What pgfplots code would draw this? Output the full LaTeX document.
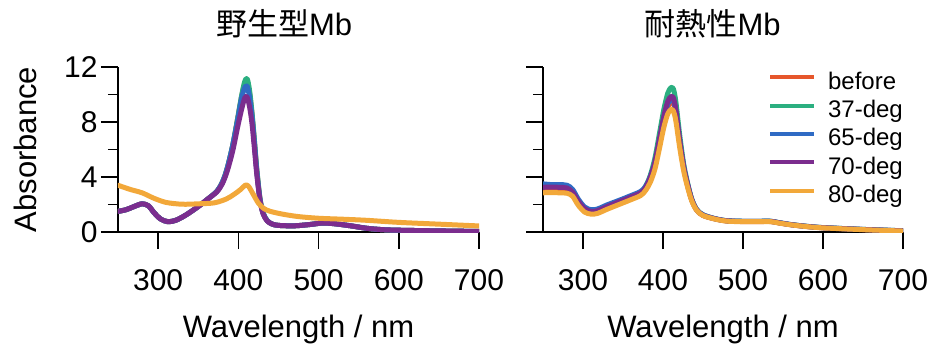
\documentclass[border=0pt]{standalone}
\usepackage{fontspec}
\setmainfont{Liberation Sans}
\newfontfamily\cjk{Noto Sans CJK JP}
\usepackage{pgfplots}
\pgfplotsset{compat=1.18}
\definecolor{cBefore}{HTML}{E6562B}
\definecolor{cA}{HTML}{2BAF80}
\definecolor{cB}{HTML}{2F6BC4}
\definecolor{cC}{HTML}{7B2D8E}
\definecolor{cD}{HTML}{F2A83A}
\pgfplotsset{
  myax/.style={
    scale only axis, width=361pt, height=165pt,
    xmin=250, xmax=700, ymin=0, ymax=12,
    axis x line*=bottom, axis y line*=left,
    xtick={300,400,500,600,700}, ytick={0,4,8,12}, minor ytick={2,6,10},
    tick align=outside, major tick length=17pt, minor tick length=10pt,
    every tick/.style={black, line width=1.6pt},
    axis line style={line width=1.6pt},
    /pgf/number format/assume math mode=true,
    tick label style={font=\fontsize{30}{30}\selectfont},
    xticklabel style={yshift=-17pt},
    title style={anchor=base, font=\fontsize{31}{31}\selectfont},
    xlabel style={at={(axis description cs:0.5,-0.642)}, anchor=base, font=\fontsize{31}{31}\selectfont},
    ylabel style={at={(axis description cs:-0.2244,0.5)}, anchor=base, font=\fontsize{31}{31}\selectfont},
    every axis plot/.append style={line width=5pt, smooth, tension=0.5, line join=round, line cap=round},
  }
}
\begin{document}
\begin{tikzpicture}
\path[use as bounding box] (0,0) rectangle (932pt,343pt);
\begin{axis}[myax, at={(118pt,111pt)}, anchor=south west,
  title={{\cjk 野生型}Mb}, title style={at={(axis description cs:0.46,1.1515)}},
  xlabel={Wavelength / nm}, ylabel={Absorbance}]
\addplot[cBefore] coordinates {(250,1.5)(260,1.62)(270,1.85)(280,2.05)(288,1.9)(295,1.4)(303,0.95)(312,0.75)(322,0.85)(335,1.25)(350,1.85)(362,2.4)(373,2.95)(380,3.6)(386,4.6)(393,6.3)(399,8.2)(404,9.8)(408,10.8)(411,10.9)(414,10.1)(417,8.6)(420,6.6)(423,4.5)(427,2.4)(431,1.35)(436,0.82)(442,0.58)(450,0.48)(470,0.45)(490,0.55)(505,0.65)(520,0.6)(540,0.45)(560,0.27)(580,0.17)(600,0.13)(650,0.08)(700,0.04)};
\addplot[cA] coordinates {(250,1.5)(260,1.62)(270,1.85)(280,2.05)(288,1.9)(295,1.4)(303,0.95)(312,0.75)(322,0.85)(335,1.25)(350,1.85)(362,2.4)(373,2.95)(380,3.6)(386,4.6)(393,6.3)(399,8.2)(404,9.9)(408,10.95)(411,11.15)(414,10.3)(417,8.7)(420,6.7)(423,4.6)(427,2.45)(431,1.38)(436,0.83)(442,0.58)(450,0.48)(470,0.45)(490,0.55)(505,0.65)(520,0.6)(540,0.45)(560,0.27)(580,0.17)(600,0.13)(650,0.08)(700,0.04)};
\addplot[cB] coordinates {(250,1.5)(260,1.62)(270,1.85)(280,2.05)(288,1.9)(295,1.4)(303,0.95)(312,0.75)(322,0.85)(335,1.25)(350,1.85)(362,2.4)(373,2.95)(380,3.6)(386,4.6)(393,6.3)(399,8.1)(404,9.7)(408,10.5)(411,10.6)(414,9.8)(417,8.4)(420,6.5)(423,4.4)(427,2.35)(431,1.33)(436,0.82)(442,0.58)(450,0.48)(470,0.45)(490,0.55)(505,0.65)(520,0.6)(540,0.45)(560,0.27)(580,0.17)(600,0.13)(650,0.08)(700,0.04)};
\addplot[cC] coordinates {(250,1.5)(260,1.62)(270,1.85)(280,2.05)(288,1.9)(295,1.4)(303,0.95)(312,0.75)(322,0.85)(335,1.25)(350,1.85)(362,2.4)(373,2.9)(380,3.5)(386,4.4)(393,5.9)(399,7.6)(404,8.9)(408,9.75)(411,9.8)(414,9.1)(417,7.9)(420,6.1)(423,4.2)(427,2.3)(431,1.3)(436,0.8)(442,0.58)(450,0.48)(470,0.45)(490,0.55)(505,0.65)(520,0.6)(540,0.45)(560,0.27)(580,0.17)(600,0.13)(650,0.08)(700,0.04)};
\addplot[cD] coordinates {(250,3.4)(265,3.1)(280,2.85)(295,2.45)(310,2.15)(330,2.02)(350,2.05)(370,2.12)(385,2.4)(395,2.75)(403,3.1)(409,3.42)(413,3.3)(418,2.8)(425,2.1)(432,1.7)(440,1.5)(455,1.3)(475,1.12)(500,1.0)(530,0.93)(560,0.85)(600,0.7)(650,0.57)(700,0.44)};
\end{axis}
\begin{axis}[myax, at={(543pt,111pt)}, anchor=south west, width=360pt,
  yticklabels={},
  title={{\cjk 耐熱性}Mb}, title style={at={(axis description cs:0.471,1.1515)}},
  xlabel={Wavelength / nm},
  legend cell align=left,
  legend style={at={(axis description cs:1,0.975)}, anchor=north east, draw=none, fill=none,
    inner sep=0pt, column sep=12pt, row sep=4.3pt,
    font=\fontsize{24}{24}\selectfont,
    nodes={inner sep=0pt, text height=18pt, text depth=6pt}},
  legend image code/.code={\draw[#1, line width=4pt, line cap=butt] (0pt,6pt) -- (44pt,6pt);}]
\addplot[cBefore] coordinates {(250,3.05)(260,3.07)(270,3.05)(280,3.0)(287,2.75)(294,2.1)(302,1.6)(310,1.4)(318,1.45)(330,1.75)(345,2.1)(360,2.45)(372,2.75)(378,3.1)(384,3.8)(390,4.9)(396,6.6)(401,8.0)(406,9.1)(410,9.45)(413,9.35)(416,8.6)(421,6.4)(426,4.6)(431,3.3)(436,2.3)(442,1.6)(450,1.2)(465,0.95)(480,0.8)(500,0.76)(520,0.76)(535,0.76)(545,0.66)(560,0.53)(580,0.4)(600,0.31)(650,0.18)(700,0.08)};
\addlegendentry{before}
\addplot[cA] coordinates {(250,3.35)(260,3.37)(270,3.35)(280,3.3)(287,3.0)(294,2.3)(302,1.75)(310,1.55)(318,1.6)(330,1.9)(345,2.25)(360,2.6)(372,2.9)(378,3.3)(384,4.1)(390,5.4)(396,7.3)(401,8.9)(406,10.1)(410,10.5)(413,10.4)(416,9.5)(421,7.0)(426,4.9)(431,3.5)(436,2.4)(442,1.65)(450,1.25)(465,0.97)(480,0.82)(500,0.78)(520,0.78)(535,0.78)(545,0.68)(560,0.54)(580,0.41)(600,0.32)(650,0.19)(700,0.09)};
\addlegendentry{37-deg}
\addplot[cB] coordinates {(250,3.5)(260,3.45)(270,3.45)(280,3.4)(287,3.1)(294,2.4)(302,1.82)(310,1.62)(318,1.67)(330,1.97)(345,2.3)(360,2.65)(372,2.95)(378,3.3)(384,4.0)(390,5.1)(396,6.8)(401,8.2)(406,9.3)(410,9.65)(413,9.55)(416,8.8)(421,6.6)(426,4.7)(431,3.4)(436,2.35)(442,1.63)(450,1.25)(465,0.97)(480,0.82)(500,0.78)(520,0.78)(535,0.78)(545,0.68)(560,0.54)(580,0.41)(600,0.32)(650,0.19)(700,0.09)};
\addlegendentry{65-deg}
\addplot[cC] coordinates {(250,3.25)(260,3.27)(270,3.25)(280,3.2)(287,2.9)(294,2.25)(302,1.7)(310,1.5)(318,1.55)(330,1.85)(345,2.2)(360,2.55)(372,2.85)(378,3.2)(384,3.95)(390,5.1)(396,6.9)(401,8.4)(406,9.5)(410,9.85)(413,9.75)(416,8.9)(421,6.6)(426,4.7)(431,3.4)(436,2.35)(442,1.62)(450,1.22)(465,0.96)(480,0.81)(500,0.77)(520,0.77)(535,0.77)(545,0.67)(560,0.53)(580,0.4)(600,0.31)(650,0.18)(700,0.08)};
\addlegendentry{70-deg}
\addplot[cD] coordinates {(250,2.85)(260,2.87)(270,2.85)(280,2.82)(287,2.6)(294,1.95)(302,1.45)(310,1.3)(318,1.35)(330,1.65)(345,2.0)(360,2.35)(372,2.65)(378,3.0)(384,3.6)(390,4.6)(396,6.2)(401,7.6)(406,8.6)(410,8.9)(413,8.8)(416,8.1)(421,6.1)(426,4.4)(431,3.2)(436,2.25)(442,1.58)(450,1.2)(465,0.94)(480,0.79)(500,0.75)(520,0.75)(535,0.75)(545,0.65)(560,0.52)(580,0.39)(600,0.3)(650,0.17)(700,0.07)};
\addlegendentry{80-deg}
\end{axis}
\end{tikzpicture}
\end{document}
